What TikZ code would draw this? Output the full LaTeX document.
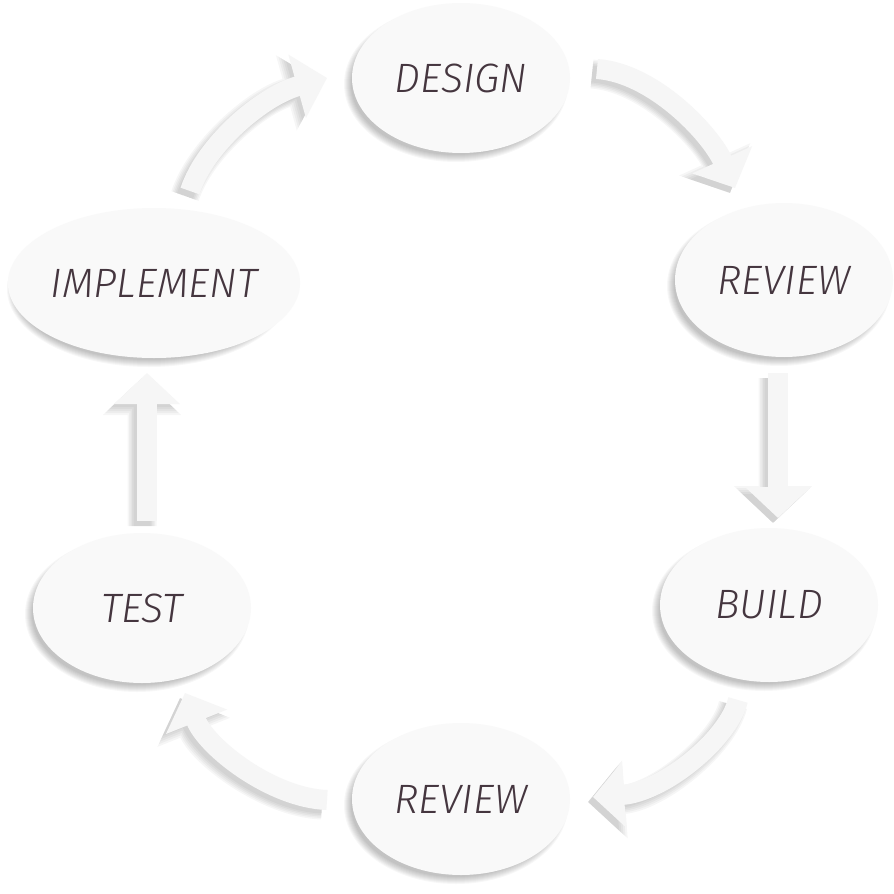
\documentclass[tikz,border=0pt]{standalone}
\usepackage{fontspec}
\newfontfamily\lblfont{Fira Sans Light Italic}
\usetikzlibrary{arrows.meta,shapes.geometric}
\definecolor{txtc}{HTML}{45363F}
\definecolor{ellc}{HTML}{F9F9F9}
\definecolor{arrc}{HTML}{F6F6F6}
\newcommand{\ellshadow}[4]{%
  \foreach \k in {0,...,7}{%
    \fill[black, opacity=0.03] (#1-5,#2+6) ellipse [x radius={#3-4+\k}, y radius={#4-4+\k}];
  }}
\begin{document}
\begin{tikzpicture}[x=1pt,y=-1pt,
  stage/.style={ellipse, fill=ellc, inner sep=0pt, text=txtc,
    font=\lblfont\fontsize{41}{41}\selectfont},
  arrbody/.style={line width=20pt, draw=arrc, -{Triangle[width=64pt,length=31pt,fill=arrc]}}
]
\fill[white] (0,0) rectangle (894,894);
\useasboundingbox (0,0) rectangle (894,894);

% arrow end points
\coordinate (a1s) at (190,191);
\coordinate (a1e) at (327,78);
\coordinate (a2s) at (597,69);
\coordinate (a2e) at (735,188);
\coordinate (a3s) at (778,373);
\coordinate (a3e) at (778,518);
\coordinate (a4s) at (738,700);
\coordinate (a4e) at (593,797);
\coordinate (a5s) at (327,800);
\coordinate (a5e) at (185,693);
\coordinate (a6s) at (147,521);
\coordinate (a6e) at (147,373);

% ellipse shadows
\ellshadow{461}{78}{109}{75}
\ellshadow{784}{280}{109}{77}
\ellshadow{769}{605}{109}{77}
\ellshadow{461}{799}{109}{76}
\ellshadow{142}{608}{109}{75}
\ellshadow{154}{283}{139}{75}

% arrow shadows (soft, several layers)
\foreach \lw/\tw/\tl in {17/60/29, 20/64/31, 23/68/33, 26/72/35, 29/76/37}{
\begin{scope}[transform canvas={xshift=-5pt, yshift=-5pt}]
\begin{scope}[transparency group, opacity=0.035]
  \tikzset{shd/.style={line width=\lw pt, draw=black, -{Triangle[width=\tw pt,length=\tl pt]}}}
  \draw[shd] (a1s) .. controls (205,145) and (262,96) .. (a1e);
  \draw[shd] (a2s) .. controls (653,73) and (710,133) .. (a2e);
  \draw[shd] (a3s) -- (a3e);
  \draw[shd] (a4s) .. controls (728,740) and (663,792) .. (a4e);
  \draw[shd] (a5s) .. controls (272,798) and (207,748) .. (a5e);
  \draw[shd] (a6s) -- (a6e);
\end{scope}
\end{scope}
}

% arrows
\draw[arrbody] (a1s) .. controls (205,145) and (262,96) .. (a1e);
\draw[arrbody] (a2s) .. controls (653,73) and (710,133) .. (a2e);
\draw[arrbody] (a3s) -- (a3e);
\draw[arrbody] (a4s) .. controls (728,740) and (663,792) .. (a4e);
\draw[arrbody] (a5s) .. controls (272,798) and (207,748) .. (a5e);
\draw[arrbody] (a6s) -- (a6e);

% stages
\node[stage, minimum width=218pt, minimum height=150pt] (design) at (461,78) {DESIGN};
\node[stage, minimum width=218pt, minimum height=154pt] (review1) at (784,280) {REVIEW};
\node[stage, minimum width=218pt, minimum height=154pt] (build) at (769,605) {BUILD};
\node[stage, minimum width=218pt, minimum height=152pt] (review2) at (461,799) {REVIEW};
\node[stage, minimum width=218pt, minimum height=150pt] (test) at (142,608) {TEST};
\node[stage, minimum width=278pt, minimum height=150pt] (implement) at (154,283) {IMPLEMENT};
\end{tikzpicture}
\end{document}
